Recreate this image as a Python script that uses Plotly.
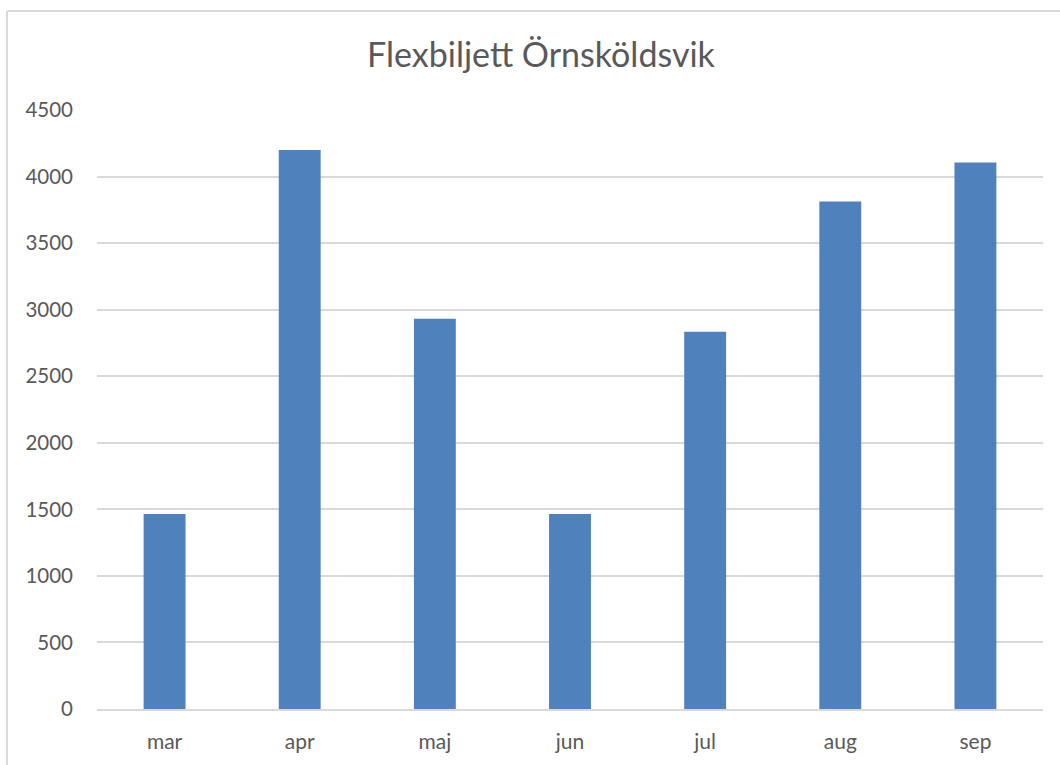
import plotly.graph_objects as go

months = ["mar", "apr", "maj", "jun", "jul", "aug", "sep"]
values = [1465, 4200, 2932, 1465, 2835, 3812, 4105]
y_ticks = [0, 500, 1000, 1500, 2000, 2500, 3000, 3500, 4000, 4500]
title_text = "Flexbiljett Örnsköldsvik"

W, H = 1060, 765
L, R, T, B = 97, 17, 110, 56
pw = W - L - R
ph = H - T - B

fig = go.Figure(go.Bar(
    x=months, y=values,
    marker=dict(color="#4F81BD", line=dict(width=0)),
    width=0.31,
))

font_main = "Lato, Open Sans, sans-serif"
fig.update_layout(
    width=W, height=H,
    margin=dict(l=L, r=R, t=T, b=B),
    paper_bgcolor="white", plot_bgcolor="white",
    title=dict(text=title_text, x=(541 - L) / pw, xref="paper", xanchor="center",
               y=1 - 55 / H, yanchor="middle",
               font=dict(family=font_main, size=34, color="#595959")),
    xaxis=dict(showgrid=False, showline=True, linecolor="#D9D9D9", linewidth=1.5,
               ticks="", tickfont=dict(family=font_main, size=21, color="#595959"),
               ticklabelstandoff=13),
    yaxis=dict(range=[0, 4500], tickvals=y_ticks, showgrid=True, gridcolor="#D9D9D9",
               gridwidth=1.5, zeroline=False, showline=False, ticks="",
               tickfont=dict(family=font_main, size=20.5, color="#595959"),
               ticklabelstandoff=23),
    showlegend=False,
)

# chart border (Excel-like frame, partly cut off)
fig.add_shape(type="line", xref="paper", yref="paper",
              x0=(7 - L) / pw, x1=(W + 5 - L) / pw,
              y0=1 + (T - 11) / ph, y1=1 + (T - 11) / ph,
              line=dict(color="#D9D9D9", width=2))
fig.add_shape(type="line", xref="paper", yref="paper",
              x0=(7 - L) / pw, x1=(7 - L) / pw,
              y0=1 + (T - 11) / ph, y1=-(B + 5) / ph,
              line=dict(color="#D9D9D9", width=2))

fig.write_html("out.html",
               config={"displayModeBar": False},
               post_script="document.body.style.margin='0';document.body.style.padding='0';")
